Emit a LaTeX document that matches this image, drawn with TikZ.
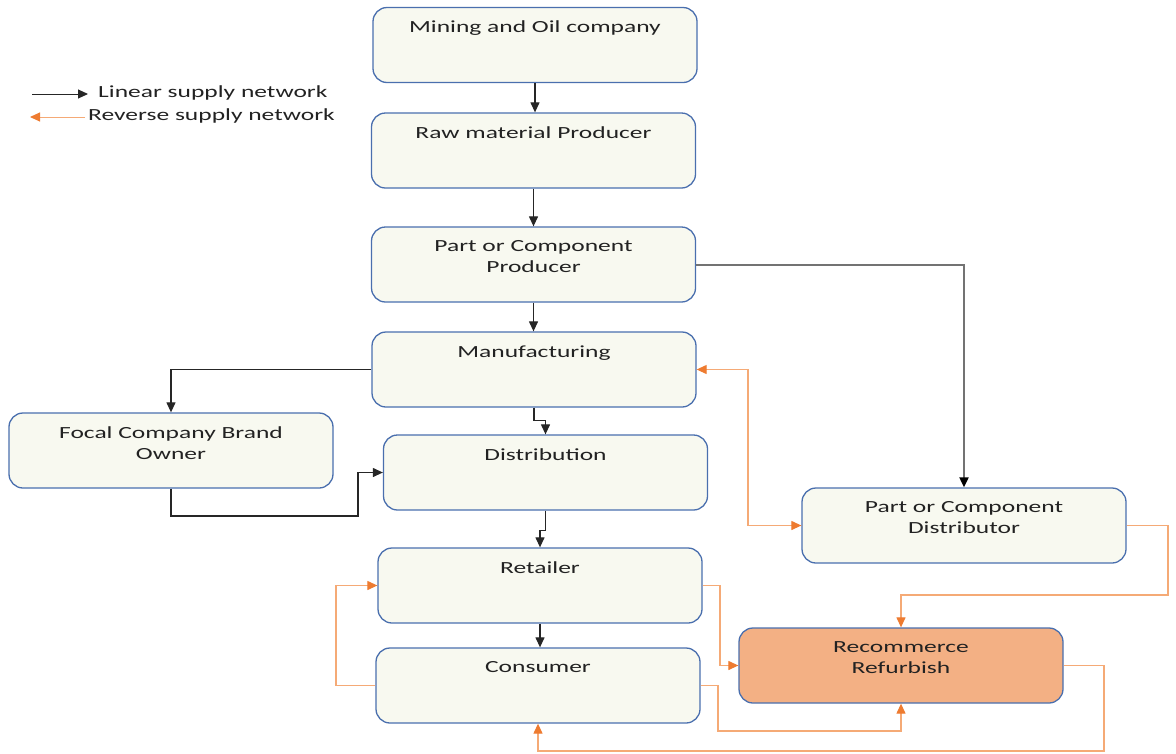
\documentclass[tikz,border=0pt]{standalone}
\usepackage{fontspec}
\setmainfont{Carlito}[FakeStretch=1.5]
\usetikzlibrary{arrows.meta}
\definecolor{boxblue}{HTML}{4A6FAE}
\definecolor{cream}{HTML}{F8F9F0}
\definecolor{peach}{HTML}{F3B084}
\definecolor{revline}{HTML}{F5AA76}
\definecolor{revtip}{HTML}{EE7B30}
\definecolor{txt}{HTML}{222222}
\tikzset{
  box/.style={draw=boxblue, fill=cream, line width=1.3pt, rounded corners=14pt,
    minimum width=324pt, minimum height=75pt, inner sep=0pt},
  boxtext/.style={anchor=north, yshift=-14pt, inner sep=0pt, align=center,
    font=\fontsize{17}{21}\selectfont, text=txt},
  lin/.style={draw=black!85, line width=1.2pt, -{Triangle[length=10pt,width=9pt]}},
  linthick/.style={draw=black!55, line width=2pt, -{Triangle[length=10pt,width=9pt,color=black]}},
  rev/.style={draw=revline, line width=1.2pt, -{Triangle[length=10pt,width=9pt,color=revtip]}},
  revboth/.style={draw=revline, line width=1.2pt,
    {Triangle[length=10pt,width=9pt,color=revtip]}-{Triangle[length=10pt,width=9pt,color=revtip]}},
  legtext/.style={anchor=west, inner sep=0pt, font=\fontsize{17}{21}\selectfont, text=txt}
}
\begin{document}
\begin{tikzpicture}[x=1pt,y=-1pt]
\useasboundingbox (0,0) rectangle (1176,753);

% supply chain stages
\node[box, label={[boxtext]north:Mining and Oil company}] (mining) at (535,45) {};
\node[box, label={[boxtext]north:Raw material Producer}] (raw) at (533.5,150.5) {};
\node[box, label={[boxtext]north:Part or Component\\Producer}] (part) at (533.5,264.5) {};
\node[box, label={[boxtext]north:Manufacturing}] (mfg) at (534,369.5) {};
\node[box, label={[boxtext]north:Focal Company Brand\\Owner}] (focal) at (171,450.5) {};
\node[box, label={[boxtext]north:Distribution}] (dist) at (545.5,472.5) {};
\node[box, label={[boxtext]north:Part or Component\\Distributor}] (pdist) at (964,525.5) {};
\node[box, label={[boxtext]north:Retailer}] (retail) at (540,585.5) {};
\node[box, label={[boxtext]north:Consumer}] (cons) at (538,685.5) {};
\node[box, fill=peach, label={[boxtext]north:Recommerce\\Refurbish}] (recom) at (901,665.5) {};

% legend
\coordinate (l1s) at (32,94);
\coordinate (l1e) at (88,94);
\node[legtext] (leg1) at (98,93) {Linear supply network};
\draw[lin, line width=1pt] (l1s) -- (l1e);
\coordinate (l2s) at (85,117);
\coordinate (l2e) at (30,117);
\node[legtext] (leg2) at (88,116) {Reverse supply network};
\draw[rev, line width=1pt] (l2s) -- (l2e);

% linear (forward) flow
\draw[lin] (mining.south) -- (mining.south |- raw.north);
\draw[lin] (raw.south) -- (part.north);
\draw[lin] (part.south) -- (part.south |- mfg.north);
\draw[linthick] (part.east) -| (pdist.north);
\draw[lin] (mfg.west) -| (focal.north);
\draw[lin] (mfg.south) -- ++(0,13) -| (dist.north);
\draw[lin] (focal.south) |- (358,516) |- (dist.west);
\draw[lin] (dist.south) -- ++(0,20) -| (retail.north);
\draw[lin] (retail.south) -- (retail.south |- cons.north);

% reverse flow
\draw[revboth] (mfg.east) -- (748,369.5) |- (pdist.west);
\draw[rev] (pdist.east) -| (1168,595) -| (recom.north);
\draw[rev] (retail.east) -- (720,585.5) |- (recom.west);
\draw[rev] (cons.east) -| (718,731) -| (recom.south);
\draw[rev] (recom.east) -| (1104,751) -| (cons.south);
\draw[rev] (cons.west) -| (336,585.5) -- (retail.west);
\end{tikzpicture}
\end{document}
